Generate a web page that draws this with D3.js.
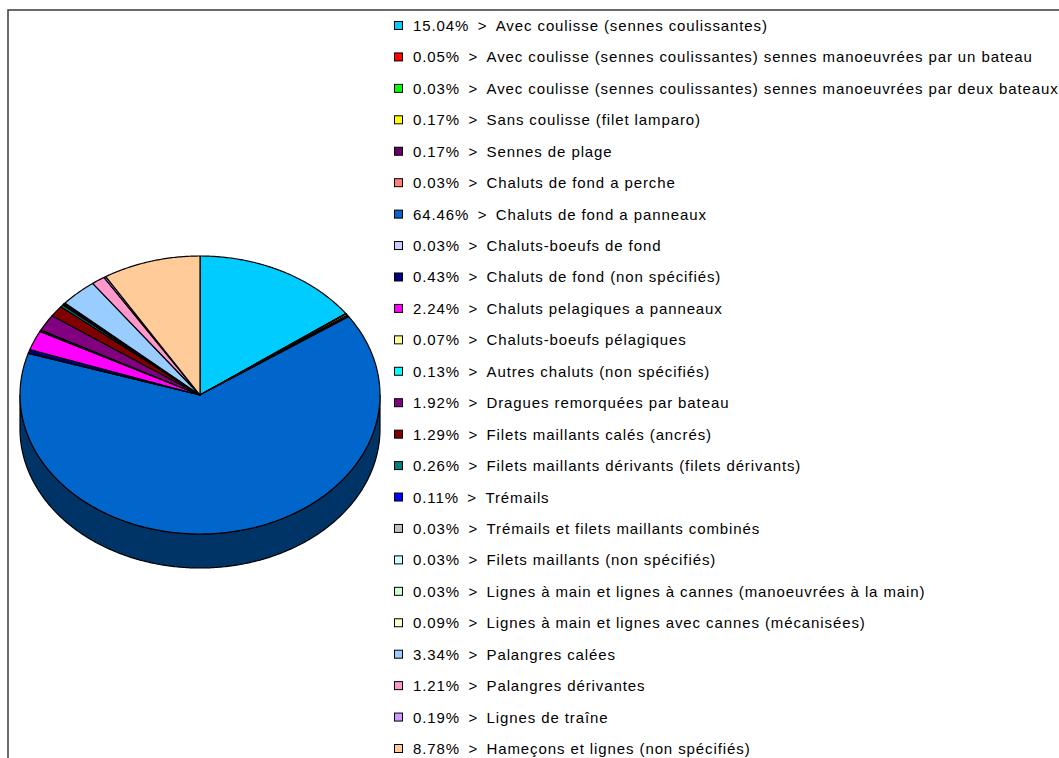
<!DOCTYPE html>
<html>
<head>
<meta charset="utf-8">
<title>Engins de peche</title>
<script src="https://cdn.jsdelivr.net/npm/d3@7"></script>
<style>
  body { margin: 0; background: #fff; }
  svg { display: block; }
  .legend text { font-family: "Liberation Sans", Arial, sans-serif; font-size: 15px; letter-spacing: 0.9px; fill: #000; white-space: pre; }
</style>
</head>
<body>
<script>
// gear categories, in the order the pie is drawn (clockwise from 12 o'clock)
var categories = [
  "Avec coulisse (sennes coulissantes)",
  "Avec coulisse (sennes coulissantes) sennes manoeuvrées par un bateau",
  "Avec coulisse (sennes coulissantes) sennes manoeuvrées par deux bateaux",
  "Sans coulisse (filet lamparo)",
  "Sennes de plage",
  "Chaluts de fond a perche",
  "Chaluts de fond a panneaux",
  "Chaluts-boeufs de fond",
  "Chaluts de fond (non spécifiés)",
  "Chaluts pelagiques a panneaux",
  "Chaluts-boeufs pélagiques",
  "Autres chaluts (non spécifiés)",
  "Dragues remorquées par bateau",
  "Filets maillants calés (ancrés)",
  "Filets maillants dérivants (filets dérivants)",
  "Trémails",
  "Trémails et filets maillants combinés",
  "Filets maillants (non spécifiés)",
  "Lignes à main et lignes à cannes (manoeuvrées à la main)",
  "Lignes à main et lignes avec cannes (mécanisées)",
  "Palangres calées",
  "Palangres dérivantes",
  "Lignes de traîne",
  "Hameçons et lignes (non spécifiés)"
];
var shares = [15.04, 0.05, 0.03, 0.17, 0.17, 0.03, 64.46, 0.03, 0.43, 2.24, 0.07, 0.13,
              1.92, 1.29, 0.26, 0.11, 0.03, 0.03, 0.03, 0.09, 3.34, 1.21, 0.19, 8.78];

var palette = ["#00ccff", "#ff0000", "#00ff00", "#ffff00", "#660066", "#ff8080",
               "#0066cc", "#ccccff", "#000080", "#ff00ff", "#ffff99", "#00ffff",
               "#800080", "#800000", "#008080", "#0000ff", "#c0c0c0", "#ccffff",
               "#ccffcc", "#ffffcc", "#99ccff", "#ff99cc", "#cc99ff", "#ffcc99"];

var W = 1059, H = 758;
var cx = 200, cy = 395, rx = 180, ry = 139, depth = 34;

var svg = d3.select("body").append("svg")
  .attr("width", W)
  .attr("height", H);

// chart frame (runs off the right/bottom edge like the original)
svg.append("rect")
  .attr("x", 8).attr("y", 10)
  .attr("width", W + 20).attr("height", H + 20)
  .attr("fill", "none")
  .attr("stroke", "#3a3a3a")
  .attr("stroke-width", 1.5);

var data = categories.map(function(c, i) { return {name: c, value: shares[i], color: palette[i]}; });

var pie = d3.pie().sort(null).value(function(d) { return d.value; });
var arcs = pie(data);

// angle 0 = 12 o'clock, clockwise
function pt(a, dy) {
  return [cx + rx * Math.sin(a), cy - ry * Math.cos(a) + (dy || 0)];
}
function arcPts(a0, a1, dy) {
  var n = Math.max(2, Math.ceil((a1 - a0) / 0.01));
  var out = [];
  for (var k = 0; k <= n; k++) out.push(pt(a0 + (a1 - a0) * k / n, dy));
  return out;
}
var line = d3.line();

var pieG = svg.append("g");

// side walls: only the front half (between 3 and 9 o'clock) is visible
var front0 = Math.PI / 2, front1 = 3 * Math.PI / 2;
arcs.forEach(function(d) {
  var a0 = Math.max(d.startAngle, front0), a1 = Math.min(d.endAngle, front1);
  if (a1 <= a0) return;
  var top = arcPts(a0, a1, 0);
  var bot = arcPts(a0, a1, depth).reverse();
  var c = d3.rgb(d.data.color);
  pieG.append("path")
    .attr("d", line(top.concat(bot)) + "Z")
    .attr("fill", d3.rgb(c.r * 0.5, c.g * 0.5, c.b * 0.5))
    .attr("stroke", "#000")
    .attr("stroke-width", 1.2)
    .attr("stroke-linejoin", "round");
});

// top faces
arcs.forEach(function(d) {
  var p = [[cx, cy]].concat(arcPts(d.startAngle, d.endAngle, 0));
  pieG.append("path")
    .attr("d", line(p) + "Z")
    .attr("fill", d.data.color)
    .attr("stroke", "#000")
    .attr("stroke-width", 1.2)
    .attr("stroke-linejoin", "round");
});

// legend
var fmt = d3.format(".2f");
var rowY = d3.scalePoint().domain(categories).range([26, 749]);

var legend = svg.append("g").attr("class", "legend");
var rows = legend.selectAll("g")
  .data(data)
  .enter().append("g")
  .attr("transform", function(d) { return "translate(394," + rowY(d.name) + ")"; });

rows.append("rect")
  .attr("x", 0.5).attr("y", -4.5)
  .attr("width", 8).attr("height", 8)
  .attr("fill", function(d) { return d.color; })
  .attr("stroke", "#000")
  .attr("stroke-width", 1);

rows.append("text")
  .attr("x", 19)
  .attr("y", 5)
  .text(function(d) { return fmt(d.value) + "%\u2002>\u2002" + d.name; });
</script>
</body>
</html>
